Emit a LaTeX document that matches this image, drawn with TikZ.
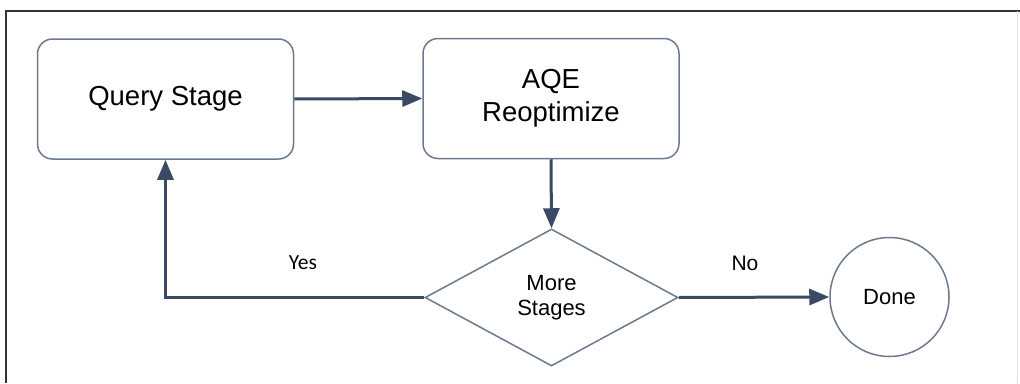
\documentclass[tikz,border=0pt]{standalone}
\usepackage{fontspec}
\setmainfont{Liberation Sans}
\newfontfamily\labelfont{Carlito}
\usetikzlibrary{shapes.geometric,arrows.meta}
\definecolor{framegray}{HTML}{333333}
\definecolor{edgegray}{HTML}{6B7A8F}
\definecolor{navy}{HTML}{3A4A64}
\tikzset{
  stagebox/.style={draw=edgegray, line width=1.5pt, rounded corners=15pt,
    minimum width=256pt, minimum height=120pt, align=center,
    font=\fontsize{27.5}{33}\selectfont, inner sep=0pt},
  decision/.style={draw=edgegray, line width=1.5pt, diamond, inner sep=0pt,
    minimum width=253pt, minimum height=137pt, align=center,
    font=\fontsize{22}{25}\selectfont},
  terminal/.style={draw=edgegray, line width=1.5pt, circle, inner sep=0pt,
    minimum size=119pt, font=\fontsize{22}{25}\selectfont},
  flow/.style={draw=navy, line width=3pt,
    -{Triangle[length=20pt,width=16pt]}},
  edgelabel/.style={font=\fontsize{21}{24}\selectfont, inner sep=0pt}
}
\begin{document}
\begin{tikzpicture}[x=1pt,y=-1pt]
  \useasboundingbox (0,0) rectangle (1020,383);
  % outer frame
  \draw[framegray, line width=2pt] (6,383) -- (6,11) -- (1020,11);
  \draw[black!12, line width=1pt] (1017,11) -- (1017,383);

  % nodes
  \node[stagebox] (qs) at (165.5,99) {Query Stage};
  \node[stagebox] (aqe) at (551,98.5) {AQE\\Reoptimize};
  \node[decision] (more) at (551.5,297.5) {More\\Stages};
  \node[terminal] (done) at (889.5,297) {Done};

  % connectors
  \draw[flow] (qs.east) -- (aqe.west);
  \draw[flow] (aqe.south) -- (more.north);
  \draw[flow] (more.west) -| (qs.south);
  \draw[flow] (more.east) -- (done.west);

  % edge labels
  \node[edgelabel, font=\labelfont\fontsize{21.5}{24}\selectfont] (yes) at (303,263) {Yes};
  \node[edgelabel] (no) at (745,263) {No};
\end{tikzpicture}
\end{document}
